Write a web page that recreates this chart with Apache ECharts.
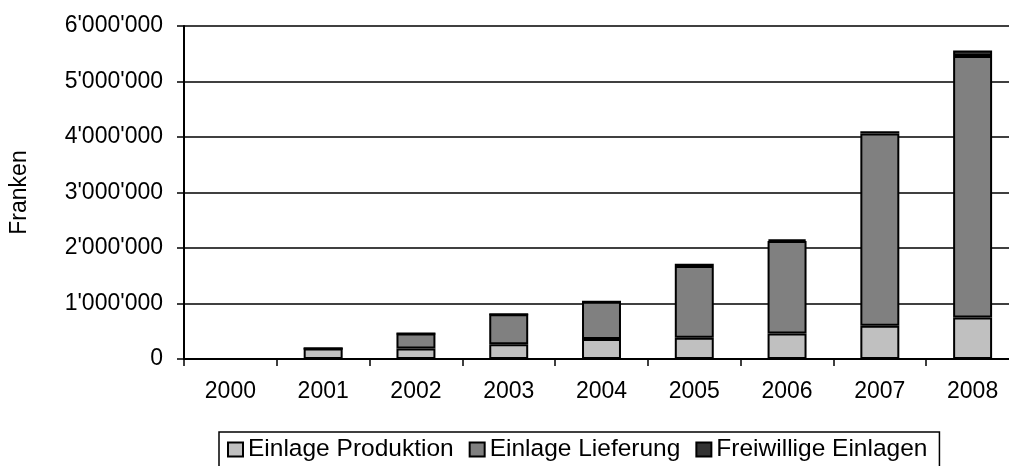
<!DOCTYPE html>
<html>
<head>
<meta charset="utf-8">
<script src="https://cdn.jsdelivr.net/npm/echarts@6/dist/echarts.min.js"></script>
<style>
  html, body { margin: 0; padding: 0; background: #fff; overflow: hidden; }
  /* the plot runs a little past the right edge of the picture, so the canvas is wider than the window */
  #chart { width: 1020px; height: 466px; }
</style>
</head>
<body>
<div id="chart"></div>
<script>
// Jahre und Einlagen in Franken
var years = ['2000', '2001', '2002', '2003', '2004', '2005', '2006', '2007', '2008'];
var produktion = [0, 190000, 190000, 265000, 360000, 385000, 460000, 600000, 750000];
var lieferung = [0, 0, 270000, 540000, 670000, 1290000, 1665000, 3464000, 4710000];
var freiwillig = [0, 0, 0, 0, 0, 40000, 30000, 40000, 100000];
var seriesNames = ['Einlage Produktion', 'Einlage Lieferung', 'Freiwillige Einlagen'];
var seriesColors = ['#c0c0c0', '#808080', '#333333'];

var font = '"Liberation Sans", Arial, sans-serif';

function swissNumber(v) {
	return String(v).replace(/\B(?=(\d{3})+(?!\d))/g, "'");
}

var chart = echarts.init(document.getElementById('chart'));

var dataSets = [produktion, lieferung, freiwillig];
var series = dataSets.map(function (d, i) {
	return {
		name: seriesNames[i],
		type: 'bar',
		stack: 'total',
		barWidth: '42%',
		data: d,
		itemStyle: { color: seriesColors[i], borderColor: '#000', borderWidth: 2 },
		emphasis: { disabled: true }
	};
});

chart.setOption({
	animation: false,
	textStyle: { fontFamily: font },
	grid: { left: 181, right: 1, top: 26, bottom: 107, containLabel: false },
	legend: {
		left: 219,
		top: 432,
		data: seriesNames,
		icon: 'rect',
		itemWidth: 15,
		itemHeight: 14,
		itemGap: 15,
		padding: [5, 12, 10, 8],
		borderColor: '#000',
		borderWidth: 1.5,
		textStyle: { fontFamily: font, fontSize: 24.5, color: '#000' }
	},
	xAxis: {
		type: 'category',
		data: years,
		axisLine: { lineStyle: { color: '#000', width: 2 } },
		axisTick: { show: true, length: 7, lineStyle: { color: '#000', width: 1.5 } },
		axisLabel: { color: '#000', fontSize: 23, fontFamily: font, margin: 21 }
	},
	yAxis: {
		type: 'value',
		min: 0,
		max: 6000000,
		interval: 1000000,
		name: 'Franken',
		nameLocation: 'middle',
		nameGap: 153,
		nameTextStyle: { color: '#000', fontSize: 23, fontFamily: font },
		axisLine: { show: true, lineStyle: { color: '#000', width: 2 } },
		axisTick: { show: true, length: 7, lineStyle: { color: '#000', width: 1.5 } },
		axisLabel: {
			color: '#000', fontSize: 23, fontFamily: font, margin: 21,
			formatter: swissNumber
		},
		splitLine: { show: true, lineStyle: { color: '#000', width: 1.6 } }
	},
	series: series
});
</script>
</body>
</html>
